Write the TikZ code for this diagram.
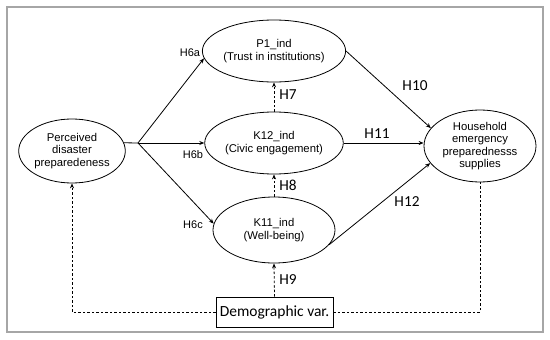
\documentclass[tikz,border=0pt]{standalone}
\usepackage{fontspec}
\setmainfont{Liberation Sans}
\newfontfamily\calibrifont{Carlito}
\usetikzlibrary{arrows.meta,shapes.geometric}

\begin{document}
\begin{tikzpicture}[x=1pt,y=-1pt,>={Stealth[length=5pt,width=4pt]},
    latent/.style={draw,ellipse,line width=0.8pt,inner sep=0pt,align=center,
        font=\fontsize{11.3}{12.5}\selectfont},
    hyp/.style={font=\fontsize{11}{13}\selectfont},
    hypbig/.style={font=\calibrifont\fontsize{15.3}{17}\selectfont},
    dashline/.style={line width=0.8pt,dash pattern=on 2.5pt off 2pt}]
    \useasboundingbox (0,0) rectangle (550,340);
    % 外框
    \draw[gray!70,line width=1.5pt] (7,7) rectangle (543,332);

    % 潜变量
    \node[latent,minimum width=105pt,minimum height=64pt] (perc) at (72,151) {Perceived\\disaster\\preparedeness};
    \node[latent,minimum width=122pt,minimum height=62pt] (trust) at (274,51) {P1\_ind\\(Trust in institutions)};
    \node[latent,minimum width=122pt,minimum height=62pt] (civic) at (274,143) {K12\_ind\\(Civic engagement)};
    \node[latent,minimum width=122pt,minimum height=66pt] (well) at (274,230) {K11\_ind\\(Well-being)};
    \node[latent,minimum width=112pt,minimum height=72pt] (house) at (480,146) {Household\\emergency\\preparednesss\\supplies};
    \node[draw,line width=0.8pt,minimum width=117pt,minimum height=30pt,inner sep=0pt,
        font=\calibrifont\fontsize{15.5}{17}\selectfont] (demo) at (274.5,312) {Demographic var.};

    % 路径 H6
    \coordinate (fork) at (138,143);
    \draw[line width=0.8pt] (perc.9) -- (fork);
    \draw[->,line width=0.8pt] (fork) -- (trust.186);
    \draw[->,line width=0.8pt] (fork) -- (civic.west);
    \draw[->,line width=0.8pt] (fork) -- (well.174);

    % 路径 H10--H12
    \draw[->,line width=0.8pt] (trust.east) -- (house.160);
    \draw[->,line width=0.8pt] (civic.east) -- (civic.east -| house.west);
    \draw[->,line width=0.8pt] (well.-15) -- (house.199);

    % 虚线
    \draw[->,dashline] (civic.north) -- (trust.south);
    \draw[->,dashline] (well.north) -- (civic.south);
    \draw[->,dashline] (demo.north) -- (well.south);
    \draw[->,dashline] (demo.west) -| (perc.south);
    \draw[dashline] (demo.east) -| (house.south);

    % 标签
    \node[hyp] (h6a) at (190,53) {H6a};
    \node[hyp] (h6b) at (193,155) {H6b};
    \node[hyp] (h6c) at (193,225) {H6c};
    \node[hypbig] (h7) at (288,95) {H7};
    \node[hypbig] (h8) at (288,185) {H8};
    \node[hypbig] (h9) at (288,280) {H9};
    \node[hypbig] (h10) at (415,86) {H10};
    \node[hypbig] (h11) at (377,134) {H11};
    \node[hypbig] (h12) at (407,202) {H12};
\end{tikzpicture}
\end{document}
